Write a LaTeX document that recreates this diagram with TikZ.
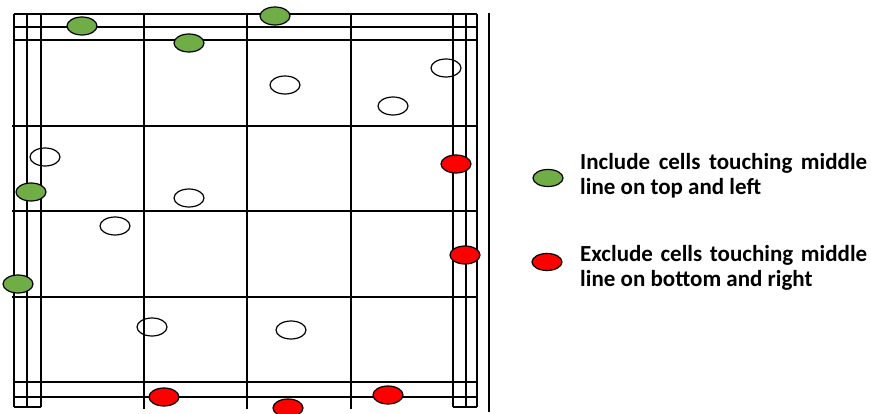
\documentclass[tikz,border=0pt]{standalone}
\usepackage{fontspec}
\setmainfont{Carlito}
\usetikzlibrary{shapes.geometric}
\definecolor{cgreen}{HTML}{70AD47}
\definecolor{cred}{HTML}{FF0000}
\begin{document}
\begin{tikzpicture}[x=1pt,y=-1pt,
 gl/.style={line width=1.6pt},
 dot/.style={ellipse,draw,line width=1.2pt,minimum width=30pt,minimum height=18pt,inner sep=0pt},
 gdot/.style={dot,fill=cgreen},
 rdot/.style={dot,fill=cred},
 wdot/.style={dot},
 lbl/.style={anchor=base west,inner sep=0pt,font=\fontsize{23pt}{25pt}\selectfont\bfseries}]
\useasboundingbox (0,0) rectangle (871,414);
\fill[white] (0,0) rectangle (871,414);
% horizontal lines
\foreach \y in {14,27,40,382,397} \draw[gl] (14,\y) -- (477,\y);
\foreach \y in {126,211,297} \draw[gl] (12,\y) -- (477,\y);
\draw[gl] (14,407) -- (41,407);
\draw[gl] (453,407) -- (477,407);
% vertical lines
\foreach \x in {14,27,41,453,466,477} \draw[gl] (\x,14) -- (\x,407);
\foreach \x in {144,247,351} \draw[gl] (\x,14) -- (\x,409);
\draw[gl] (489,13) -- (489,412);
% white cells
\node[wdot] (w1) at (285,85) {};
\node[wdot] (w2) at (446,68) {};
\node[wdot] (w3) at (393,106) {};
\node[wdot] (w4) at (45,157) {};
\node[wdot] (w5) at (189,198) {};
\node[wdot] (w6) at (115,226) {};
\node[wdot] (w7) at (152,327) {};
\node[wdot] (w8) at (291,330) {};
% green cells
\node[gdot] (g1) at (82,26) {};
\node[gdot] (g2) at (189,43) {};
\node[gdot] (g3) at (275,16) {};
\node[gdot] (g4) at (31,192) {};
\node[gdot] (g5) at (18,284) {};
% red cells
\node[rdot] (r1) at (456,164) {};
\node[rdot] (r2) at (465,255) {};
\node[rdot] (r3) at (164,397) {};
\node[rdot] (r4) at (288,408) {};
\node[rdot] (r5) at (388,395) {};
% legend
\node[gdot,minimum height=17pt] (lg) at (548,178) {};
\node[rdot,minimum height=17pt] (lr) at (547,262) {};
\node[lbl] (t1) at (580,169.5) {\makebox[287pt][s]{Include cells touching middle}};
\node[lbl] (t2) at (580,195) {line on top and left};
\node[lbl] (t3) at (580,262) {\makebox[287pt][s]{Exclude cells touching middle}};
\node[lbl] (t4) at (580,287) {line on bottom and right};
\end{tikzpicture}
\end{document}
